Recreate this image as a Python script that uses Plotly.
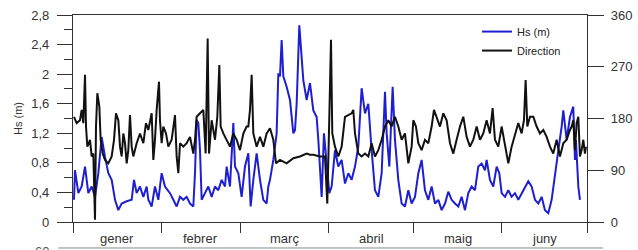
import plotly.graph_objects as go

# ---- data ----
# day of year (0 = 1 Jan) and significant wave height (m)
hs_day = [0.35, 0.7, 1.88, 3.05, 4.23, 5.4, 6.57, 7.75, 8.92, 10.09, 11.27, 12.44, 13.62, 14.79, 15.96,
          17.14, 18.9, 20.66, 21.48, 22.42, 23.59, 24.77, 25.94, 26.53, 27.7, 28.87, 30.05, 31.22, 32.39,
          34.15, 35.33, 36.5, 37.68, 38.85, 40.02, 41.2, 42.37, 42.96, 43.54, 44.13, 44.72, 45.31, 46.48,
          47.65, 48.83, 50.0, 51.17, 52.35, 53.52, 54.11, 55.28, 56.46, 57.04, 58.22, 59.39, 60.56, 61.74,
          62.56, 63.5, 64.67, 65.85, 67.02, 68.19, 68.78, 69.37, 70.54, 71.71, 72.3, 72.89, 73.47, 74.06,
          75.23, 76.41, 77.58, 78.17, 78.76, 79.69, 81.1, 82.28, 83.45, 84.63, 85.8, 86.39, 86.97, 87.56,
          88.38, 89.32, 90.26, 91.08, 92.25, 93.43, 94.6, 95.78, 96.95, 98.12, 99.3, 100.47, 101.64, 102.82,
          103.99, 105.16, 106.34, 107.51, 108.69, 109.86, 110.45, 111.39, 112.56, 113.38, 114.55, 115.73,
          116.9, 118.08, 119.25, 120.42, 121.6, 122.77, 123.94, 125.12, 126.29, 127.46, 128.64, 129.81,
          130.99, 132.16, 133.33, 134.51, 135.68, 136.86, 138.03, 139.2, 140.38, 141.55, 142.72, 143.9,
          145.07, 145.66, 146.83, 148.0, 149.18, 150.12, 150.94, 152.11, 153.29, 154.46, 155.63, 156.81,
          157.98, 159.15, 160.33, 161.5, 162.68, 163.85, 165.03, 166.2, 167.37, 168.55, 169.72, 170.9,
          172.07, 172.65, 173.83, 175.0, 176.17, 176.76, 177.1, 177.94, 178.52]
hs_val = [0.30, 0.70, 0.39, 0.48, 0.75, 0.39, 0.48, 0.34, 0.66, 1.15, 0.88, 0.66, 0.57, 0.30, 0.16,
          0.25, 0.28, 0.30, 0.57, 0.39, 0.48, 0.34, 0.48, 0.30, 0.21, 0.48, 0.30, 0.66, 0.48,
          0.39, 0.30, 0.21, 0.34, 0.30, 0.34, 0.25, 0.21, 0.66, 1.38, 1.34, 0.97, 0.30, 0.39,
          0.48, 0.34, 0.48, 0.43, 0.57, 0.48, 0.75, 0.48, 1.34, 0.75, 0.66, 0.34, 0.75, 0.93,
          0.21, 0.57, 0.93, 0.57, 0.30, 0.25, 0.48, 0.57, 0.84, 1.20, 2.01, 1.97, 2.46, 1.97,
          1.83, 1.65, 1.20, 1.24, 1.60, 2.66, 1.92, 1.65, 1.88, 1.51, 1.42, 1.11, 0.66, 0.34,
          1.20, 0.84, 0.39, 0.48, 0.97, 0.75, 0.84, 0.52, 0.66, 0.57, 0.75, 1.02, 1.81, 1.47,
          1.60, 0.97, 0.43, 0.34, 0.66, 1.76, 1.20, 0.75, 1.83, 1.11, 0.57, 0.25,
          0.21, 0.43, 0.25, 0.34, 0.66, 0.84, 0.43, 0.30, 0.48, 0.25, 0.30, 0.16,
          0.25, 0.41, 0.30, 0.25, 0.21, 0.34, 0.16, 0.39, 0.48, 0.43, 0.75, 0.79,
          0.70, 0.84, 0.57, 0.48, 0.75, 0.66, 0.39, 0.34, 0.43, 0.34, 0.39, 0.30,
          0.39, 0.48, 0.55, 0.48, 0.30, 0.25, 0.34, 0.16, 0.12, 0.30, 0.66, 0.97,
          1.29, 1.51, 1.11, 1.42, 1.56, 0.84, 1.11, 0.48, 0.30]

# day of year and wave direction (degrees)
dir_day = [0.35, 1.29, 2.46, 3.05, 3.64, 4.23, 4.58, 5.05, 5.99, 6.57, 7.16, 7.75, 8.1, 8.57, 9.27, 9.74,
           10.45, 11.27, 12.44, 13.62, 14.44, 15.14, 15.96, 16.55, 17.14, 17.72, 18.31, 18.9, 19.48, 20.07,
           20.66, 21.24, 22.42, 23.59, 24.77, 25.7, 26.53, 27.7, 28.29, 28.87, 29.46, 30.28, 30.63, 31.22,
           31.81, 32.75, 33.57, 34.74, 35.92, 36.5, 37.09, 37.68, 38.85, 40.02, 41.2, 42.37, 42.96, 43.54,
           44.72, 45.89, 46.71, 47.42, 47.89, 48.83, 50.0, 50.82, 51.53, 52.0, 52.93, 54.11, 55.28, 56.46,
           57.63, 58.8, 59.98, 61.15, 61.74, 62.32, 62.91, 63.5, 64.67, 65.85, 67.02, 68.19, 69.37, 70.54,
           71.48, 72.89, 75.23, 77.58, 79.93, 82.28, 83.45, 84.63, 86.97, 88.73, 89.55, 90.26, 90.85, 91.31,
           92.25, 93.43, 94.6, 95.78, 96.95, 98.12, 98.71, 99.3, 100.47, 101.64, 102.82, 103.99, 105.16,
           106.34, 107.51, 108.69, 109.86, 111.03, 112.21, 113.38, 114.55, 115.73, 116.9, 118.08, 119.25,
           119.84, 120.77, 121.6, 122.77, 123.94, 125.12, 126.29, 127.11, 128.05, 129.23, 130.4, 131.57,
           132.75, 133.92, 135.09, 136.27, 137.44, 138.62, 139.79, 140.96, 142.14, 143.31, 144.48, 145.66,
           146.83, 147.77, 148.59, 149.77, 150.94, 152.11, 153.29, 154.46, 155.63, 156.81, 157.98, 158.8,
           159.39, 159.98, 160.92, 162.09, 163.26, 164.44, 165.61, 166.79, 167.96, 169.13, 170.31, 171.48,
           172.65, 173.83, 175.0, 175.59, 176.17, 176.76, 177.35, 177.94, 178.52, 179.11, 179.7, 180.28,
           180.64]
dir_val = [183, 172, 177, 195, 172, 256, 166, 131, 143, 114, 119, 4, 166, 224, 201, 143,
           119, 108, 102, 114, 143, 189, 177, 131, 114, 154, 137, 102, 125, 186,
           131, 114, 137, 154, 137, 172, 160, 189, 108, 143, 195, 244, 177, 137,
           166, 154, 131, 143, 186, 114, 85, 137, 131, 137, 148, 119, 143, 183,
           189, 195, 119, 319, 119, 177, 143, 183, 273, 166, 154, 143, 131, 154,
           143, 125, 154, 166, 166, 195, 256, 154, 131, 148, 131, 154, 163, 143,
           102, 108, 102, 111, 114, 119, 117, 117, 114, 114, 32, 183, 317, 154,
           131, 114, 131, 183, 186, 189, 195, 154, 119, 114, 119, 114, 137,
           114, 125, 143, 166, 177, 166, 183, 166, 143, 154, 102, 131,
           177, 166, 137, 125, 143, 137, 166, 195, 183, 166, 189, 177,
           137, 119, 143, 166, 183, 148, 131, 143, 166, 143, 154, 177,
           154, 198, 143, 131, 166, 131, 102, 131, 154, 172, 154, 177,
           247, 166, 183, 183, 166, 154, 160, 148, 131, 119, 143, 114,
           137, 143, 160, 166, 177, 125, 172, 183, 114, 125, 143, 119,
           131]

month_names = ["gener", "febrer", "març", "abril", "maig", "juny"]
month_days = [31, 28, 31, 30, 31, 30]

hs_tickvals = [0, 0.4, 0.8, 1.2, 1.6, 2.0, 2.4, 2.8]
hs_ticktext = ["0", "0,4", "0,8", "1,2", "1,6", "2", "2,4", "2,8"]
dir_tickvals = [0, 90, 180, 270, 360]

# ---- derived month boundaries / centres ----
bounds = [0]
for d in month_days:
    bounds.append(bounds[-1] + d)
mids = [(bounds[i] + bounds[i + 1]) / 2 for i in range(len(month_days))]

AX = "#333333"
FONT = "Liberation Sans, Arial, sans-serif"

fig = go.Figure()
fig.add_trace(go.Scatter(x=hs_day, y=hs_val, mode="lines", name="Hs (m)",
                         line=dict(color="#1f1fd2", width=2), yaxis="y"))
fig.add_trace(go.Scatter(x=dir_day, y=dir_val, mode="lines", name="Direction",
                         line=dict(color="#111111", width=2), yaxis="y2"))

fig.update_layout(
    width=638, height=250,
    margin=dict(l=73, r=51, t=15, b=28, autoexpand=False),
    paper_bgcolor="white", plot_bgcolor="white",
    font=dict(family=FONT, size=13, color="#333333"),
    showlegend=True,
    legend=dict(x=0.786, y=0.99, xanchor="left", yanchor="top",
                bgcolor="rgba(0,0,0,0)", font=dict(size=11, color="#222222"),
                tracegroupgap=0, itemwidth=30),
    xaxis=dict(range=[0, bounds[-1]], tickmode="array", tickvals=bounds,
               showticklabels=False, ticks="outside", ticklen=10, tickwidth=1.3,
               tickcolor=AX, showline=True, linecolor=AX, linewidth=1.3,
               mirror=True, showgrid=False, zeroline=False),
    yaxis=dict(range=[0, 2.8], tickmode="array", tickvals=hs_tickvals, ticktext=hs_ticktext,
               ticks="outside", ticklen=15, tickwidth=1.3, tickcolor=AX,
               minor=dict(tickmode="linear", tick0=0, dtick=0.2, ticks="outside",
                          ticklen=8, tickwidth=1.3, tickcolor=AX, showgrid=False),
               showline=True, linecolor=AX, linewidth=1.3, showgrid=False, zeroline=False,
               ticklabelstandoff=5, tickfont=dict(size=13)),
    yaxis2=dict(range=[0, 360], overlaying="y", side="right", tickmode="array",
                tickvals=dir_tickvals, ticks="outside", ticklen=16, tickwidth=1.3,
                tickcolor=AX, showline=True, linecolor=AX, linewidth=1.3,
                showgrid=False, zeroline=False, ticklabelstandoff=4,
                tickfont=dict(size=13)),
)

# month labels
for name, m in zip(month_names, mids):
    fig.add_annotation(x=m, y=-0.082, xref="x", yref="paper", text=name,
                       showarrow=False, xanchor="center", yanchor="middle",
                       font=dict(size=13, color="#333333"))

# y-axis title
fig.add_annotation(x=-0.108, y=0.5, xref="paper", yref="paper", text="Hs (m)",
                   textangle=-90, showarrow=False, xanchor="center", yanchor="middle",
                   font=dict(size=11, color="#333333"))

# start of the next panel (cut off at the bottom of the picture)
fig.add_shape(type="line", xref="paper", yref="paper", x0=-0.029, x1=1.031,
              y0=-0.1256, y1=-0.1256, line=dict(color="#888888", width=1))
fig.add_annotation(x=-0.0603, y=-0.142, xref="paper", yref="paper", text="60",
                   showarrow=False, xanchor="center", yanchor="middle",
                   font=dict(size=13, color="#555555"))

fig.write_html("out.html", config={"displayModeBar": False},
               post_script="document.body.style.margin='0';document.body.style.overflow='hidden';")
